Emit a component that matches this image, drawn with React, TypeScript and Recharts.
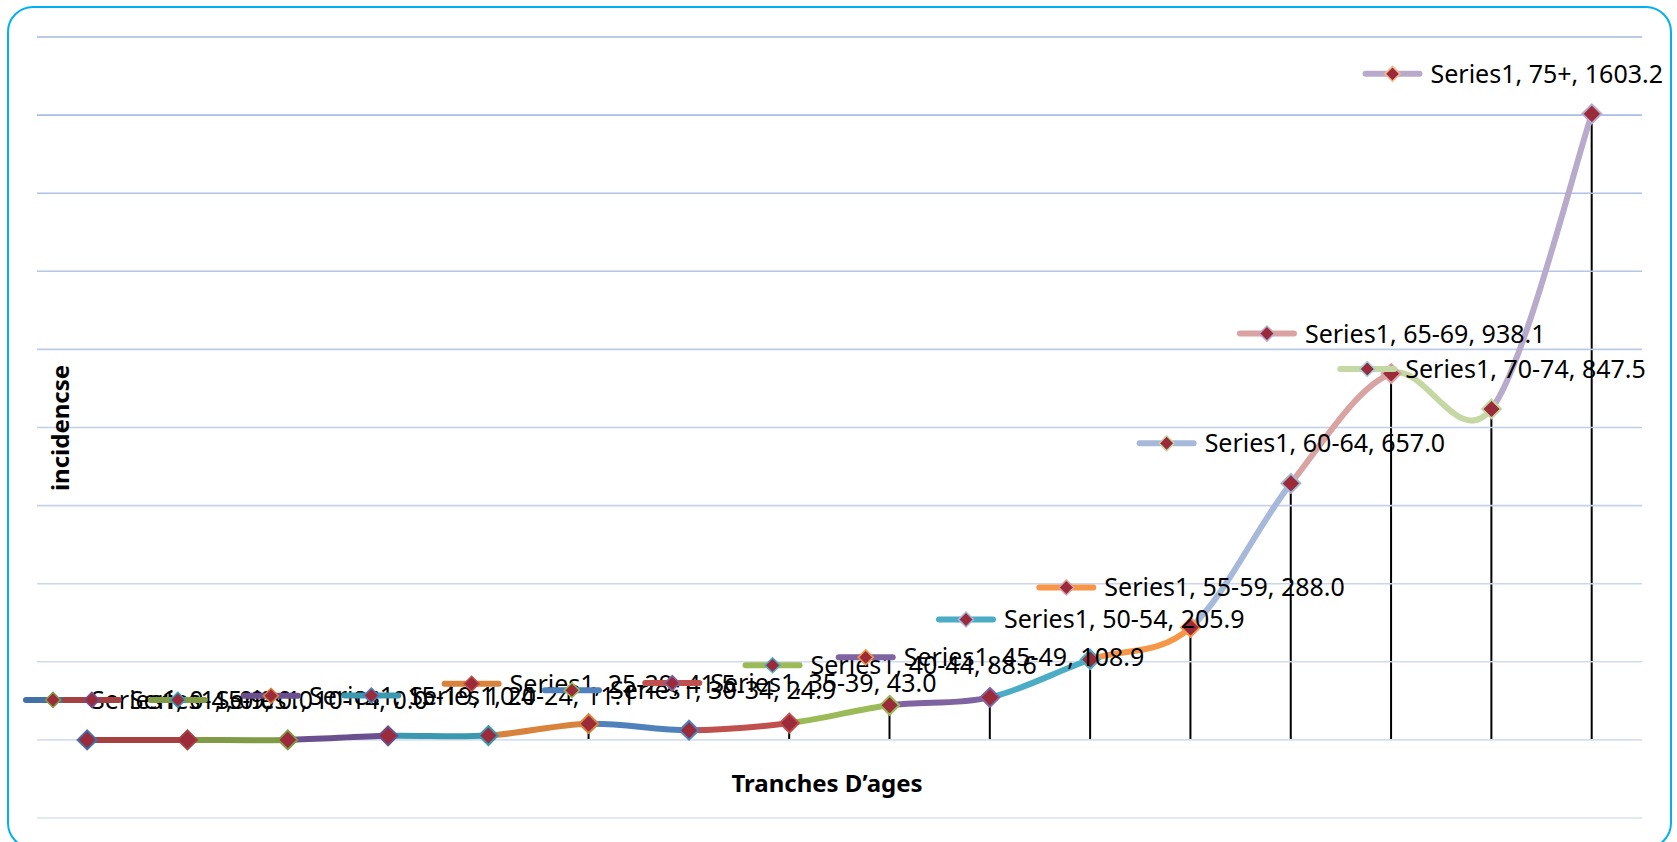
import React from "react";
import {
  ComposedChart,
  Line,
  Bar,
  XAxis,
  YAxis,
  ReferenceLine,
  LabelList,
} from "recharts";

const seriesName = "Series1";

const ageGroups = [
  "0-4", "5-9", "10-14", "15-19", "20-24", "25-29", "30-34", "35-39",
  "40-44", "45-49", "50-54", "55-59", "60-64", "65-69", "70-74", "75+",
];

const incidence = [
  0.0, 0.0, 0.0, 10.4, 11.1, 41.5, 24.9, 43.0,
  88.6, 108.9, 205.9, 288.0, 657.0, 938.1, 847.5, 1603.2,
];

const yTicks = [-200, 0, 200, 400, 600, 800, 1000, 1200, 1400, 1600, 1800];

// excel "vary colors by point" palette (darker, base, lighter)
const pointColors = [
  "#4370A8", "#A4403F", "#7F9B46", "#6B5090", "#3A98AF", "#D9823B",
  "#4F81BD", "#C0504D", "#9BBB59", "#8064A2", "#4BACC6", "#F79646",
  "#A7B9DA", "#D9A3A2", "#C5D8A3", "#B8AACB", "#9CD2E0", "#F9BB8C",
];

const markerFill = "#9B2A3A";
const FONT = "'Noto Sans', sans-serif";
const LABEL_FONT_SIZE = 25;

const data = ageGroups.map((age, i) => ({ age, value: incidence[i] }));

// bezier smoothing like excel's smoothed line (catmull-rom, 1/6 control)
function excelSmooth(context: any) {
  let pts: number[][] = [];
  return {
    areaStart() {},
    areaEnd() {},
    lineStart() {
      pts = [];
    },
    point(x: number, y: number) {
      pts.push([+x, +y]);
    },
    lineEnd() {
      const n = pts.length;
      if (!n) return;
      context.moveTo(pts[0][0], pts[0][1]);
      for (let i = 0; i < n - 1; i++) {
        const p0 = pts[Math.max(i - 1, 0)];
        const p1 = pts[i];
        const p2 = pts[i + 1];
        const p3 = pts[Math.min(i + 2, n - 1)];
        context.bezierCurveTo(
          p1[0] + (p2[0] - p0[0]) / 6,
          p1[1] + (p2[1] - p0[1]) / 6,
          p2[0] - (p3[0] - p1[0]) / 6,
          p2[1] - (p3[1] - p1[1]) / 6,
          p2[0],
          p2[1]
        );
      }
    },
  };
}

let measureCtx: CanvasRenderingContext2D | null = null;
function textWidth(s: string) {
  if (!measureCtx) measureCtx = document.createElement("canvas").getContext("2d");
  if (!measureCtx) return s.length * 11;
  measureCtx.font = `${LABEL_FONT_SIZE}px 'Noto Sans'`;
  return measureCtx.measureText(s).width;
}

function mix(a: string, b: string, t: number) {
  const pa = [1, 3, 5].map((k) => parseInt(a.slice(k, k + 2), 16));
  const pb = [1, 3, 5].map((k) => parseInt(b.slice(k, k + 2), 16));
  return (
    "#" +
    pa
      .map((v, i) => Math.round(v + (pb[i] - v) * t).toString(16).padStart(2, "0"))
      .join("")
  );
}

function gridColor(t: number) {
  return mix("#A6B9E1", "#DAE3F3", (1800 - t) / 2000);
}

const renderDot = (props: any) => {
  const { cx, cy, index } = props;
  if (cx == null || cy == null) return <g key={`d${index}`} />;
  const r = 9.5;
  return (
    <path
      key={`d${index}`}
      d={`M${cx},${cy - r}L${cx + r},${cy}L${cx},${cy + r}L${cx - r},${cy}Z`}
      fill={markerFill}
      stroke={pointColors[index]}
      strokeWidth={2}
    />
  );
};

const renderLabel = (props: any) => {
  const index = props.index;
  const cx = props.x ?? props.viewBox?.x;
  const cy = props.y ?? props.viewBox?.y;
  if (cx == null || cy == null) return null;
  const text = `${seriesName}, ${ageGroups[index]}, ${incidence[index].toFixed(1)}`;
  const w = 68 + textWidth(text);
  let left = cx - w / 2;
  left = Math.max(23, Math.min(left, 1663 - w));
  const ky = cy - 40;
  const r = 7.5;
  const kx = left + 30;
  return (
    <g key={`l${index}`}>
      <line
        x1={left + 3}
        x2={left + 57}
        y1={ky}
        y2={ky}
        stroke={pointColors[index]}
        strokeWidth={6}
        strokeLinecap="round"
      />
      <path
        d={`M${kx},${ky - r}L${kx + r},${ky}L${kx},${ky + r}L${kx - r},${ky}Z`}
        fill={markerFill}
        stroke={pointColors[index + 2]}
        strokeWidth={1.5}
      />
      <text
        x={left + 68}
        y={ky + 9}
        fontFamily={FONT}
        fontSize={LABEL_FONT_SIZE}
        fill="#000"
      >
        {text}
      </text>
    </g>
  );
};

export default function App() {
  const stops: React.ReactElement[] = [];
  const n = incidence.length - 1;
  for (let k = 0; k < n; k++) {
    stops.push(<stop key={`a${k}`} offset={k / n} stopColor={pointColors[k + 1]} />);
    stops.push(<stop key={`b${k}`} offset={(k + 1) / n} stopColor={pointColors[k + 1]} />);
  }

  return (
    <div
      style={{
        position: "fixed",
        left: 0,
        top: 0,
        width: 1677,
        height: 842,
        overflow: "hidden",
        background: "#fff",
      }}
    >
      <div
        style={{
          position: "absolute",
          left: 7,
          top: 6,
          width: 1665,
          height: 843,
          boxSizing: "border-box",
          border: "2px solid #00B0F0",
          borderRadius: 26,
        }}
      />
      <div style={{ position: "absolute", left: 0, top: 0 }}>
        <ComposedChart
          width={1677}
          height={842}
          data={data}
          margin={{ top: 37, right: 35, bottom: 24, left: 37 }}
        >
          <defs>
            <linearGradient id="segments" x1="0" y1="0" x2="1" y2="0">
              {stops}
            </linearGradient>
          </defs>
          <XAxis dataKey="age" hide />
          <YAxis hide type="number" domain={[-200, 1800]} ticks={yTicks} allowDataOverflow />
          {yTicks.map((t) => (
            <ReferenceLine key={t} y={t} stroke={gridColor(t)} strokeWidth={1.6} />
          ))}
          <Line
            dataKey="value"
            type={excelSmooth as any}
            stroke="url(#segments)"
            strokeWidth={6}
            strokeLinecap="round"
            dot={renderDot}
            activeDot={false}
            isAnimationActive={false}
          >
            <LabelList dataKey="value" content={renderLabel} />
          </Line>
          <Bar dataKey="value" barSize={2} fill="#000" isAnimationActive={false} />
        </ComposedChart>
      </div>
      <svg
        width={1677}
        height={842}
        style={{ position: "absolute", left: 0, top: 0, pointerEvents: "none" }}
      >
        <text
          x={827}
          y={792}
          textAnchor="middle"
          fontFamily={FONT}
          fontWeight="bold"
          fontSize={24}
          fill="#000"
        >
          Tranches D’ages
        </text>
        <text
          transform="translate(69,428) rotate(-90)"
          textAnchor="middle"
          fontFamily={FONT}
          fontWeight="bold"
          fontSize={24}
          fill="#000"
        >
          incidencse
        </text>
      </svg>
    </div>
  );
}
